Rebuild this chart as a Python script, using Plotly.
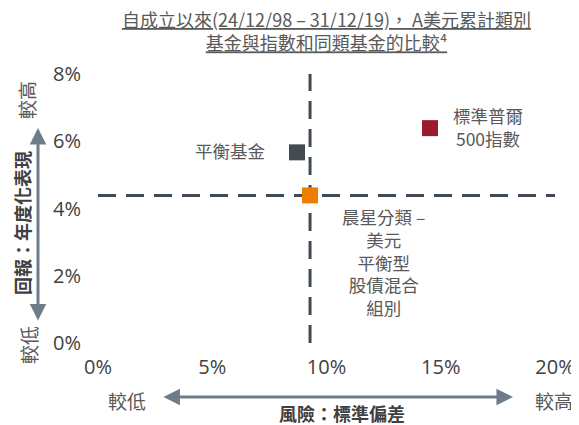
import plotly.graph_objects as go

# ---- data ----
names = ["平衡基金", "標準普爾<br>500指數", "晨星分類 –<br>美元<br>平衡型<br>股債混合<br>組別"]
risk = [8.71, 14.53, 9.28]      # standard deviation (%)
ret = [5.67, 6.39, 4.39]        # annualised return (%)
colors = ["#434b52", "#9b1b2a", "#ee7d00"]
x_ticks = [0, 5, 10, 15, 20]
y_ticks = [0, 2, 4, 6, 8]
x_range = [0, 20]
y_range = [0, 8]
title_l1 = "自成立以來(24/12/98 – 31/12/19)， A美元累計類別"
title_l2 = "基金與指數和同類基金的比較⁴"

FONT = "Noto Sans CJK TC, Noto Sans, sans-serif"
NUMFONT = "Open Sans, Noto Sans CJK TC, sans-serif"
TXT = "#595959"
DARK = "#404040"
ARROW = "#6e7c89"
LINE = "#414b55"

fig = go.Figure()

# peer-group cross lines
peer_x, peer_y = risk[2], ret[2]
fig.add_trace(go.Scatter(x=x_range, y=[peer_y, peer_y], mode="lines",
                         line=dict(color=LINE, width=3, dash="18px,10px"),
                         hoverinfo="skip", showlegend=False))
fig.add_trace(go.Scatter(x=[peer_x, peer_x], y=y_range, mode="lines",
                         line=dict(color=LINE, width=3, dash="18px,10px"),
                         hoverinfo="skip", showlegend=False))

# points
fig.add_trace(go.Scatter(x=risk, y=ret, mode="markers",
                         marker=dict(symbol="square", size=16, color=colors,
                                     line=dict(width=0)),
                         showlegend=False))

ann = []
# point labels
label_cfg = [
    # (xshift, xanchor, yshift)
    (-30, "right", 2),
    (58, "center", 1),
    (73, "center", -66.5),
]
for i, (xs, xa, ys) in enumerate(label_cfg):
    ann.append(dict(x=risk[i], y=ret[i], xref="x", yref="y", text=names[i],
                    showarrow=False, xanchor=xa, yanchor="middle", align="center",
                    xshift=xs, yshift=ys,
                    font=dict(size=17.5, color=TXT, family=FONT)))


def paper_text(x, y, text, size, color=TXT, angle=0):
    return dict(x=x, y=y, xref="paper", yref="paper", text=text, textangle=angle,
                showarrow=False, xanchor="center", yanchor="middle", align="center",
                font=dict(size=size, color=color, family=FONT))


# title (two centred, underlined lines)
ann.append(paper_text(0.5, 1.1599, f"<u>{title_l1}</u><br><u>{title_l2}</u>", 18))

# axis side texts
ann += [
    paper_text(-0.1575, 0.903, "較高", 19, angle=-90),
    paper_text(-0.1663, 0.446, "<b>回報：年度化表現</b>", 18, color=DARK, angle=-90),
    paper_text(-0.151, -0.0074, "較低", 19, angle=-90),
    paper_text(0.0635, -0.212, "較低", 19),
    paper_text(0.998, -0.212, "較高", 19),
    paper_text(0.534, -0.260, "<b>風險：標準偏差</b>", 18, color=DARK),
]
# arrows
ann += [
    dict(x=-0.1313, y=0.799, xref="paper", yref="paper", text="", showarrow=True,
         ax=0, ay=194, axref="pixel", ayref="pixel", arrowhead=2, startarrowhead=2,
         arrowside="end+start", arrowsize=1.1, startarrowsize=1.1, arrowwidth=3,
         arrowcolor=ARROW, standoff=0, startstandoff=0),
    dict(x=0.908, y=-0.2007, xref="paper", yref="paper", text="", showarrow=True,
         ax=-351, ay=0, axref="pixel", ayref="pixel", arrowhead=2, startarrowhead=2,
         arrowside="end+start", arrowsize=1.1, startarrowsize=1.1, arrowwidth=3,
         arrowcolor=ARROW, standoff=0, startstandoff=0),
]

# page body has an 8px margin, so offsets are compensated in the layout margins
fig.update_layout(
    width=579, height=425,
    margin=dict(l=90, r=32, t=66, b=90, autoexpand=False),
    paper_bgcolor="white", plot_bgcolor="white",
    font=dict(family=FONT, color=DARK),
    annotations=ann,
    showlegend=False,
)
fig.update_xaxes(range=x_range, tickvals=x_ticks, ticktext=[f"{v}%" for v in x_ticks],
                 showgrid=False, zeroline=False, showline=False, ticks="",
                 automargin=False, ticklabelstandoff=10,
                 tickfont=dict(size=20, color=DARK, family=NUMFONT))
fig.update_yaxes(range=y_range, tickvals=y_ticks, ticktext=[f"{v}%" for v in y_ticks],
                 showgrid=False, zeroline=False, showline=False, ticks="",
                 automargin=False, ticklabelstandoff=16,
                 tickfont=dict(size=20, color=DARK, family=NUMFONT))

fig.write_html("out.html")
